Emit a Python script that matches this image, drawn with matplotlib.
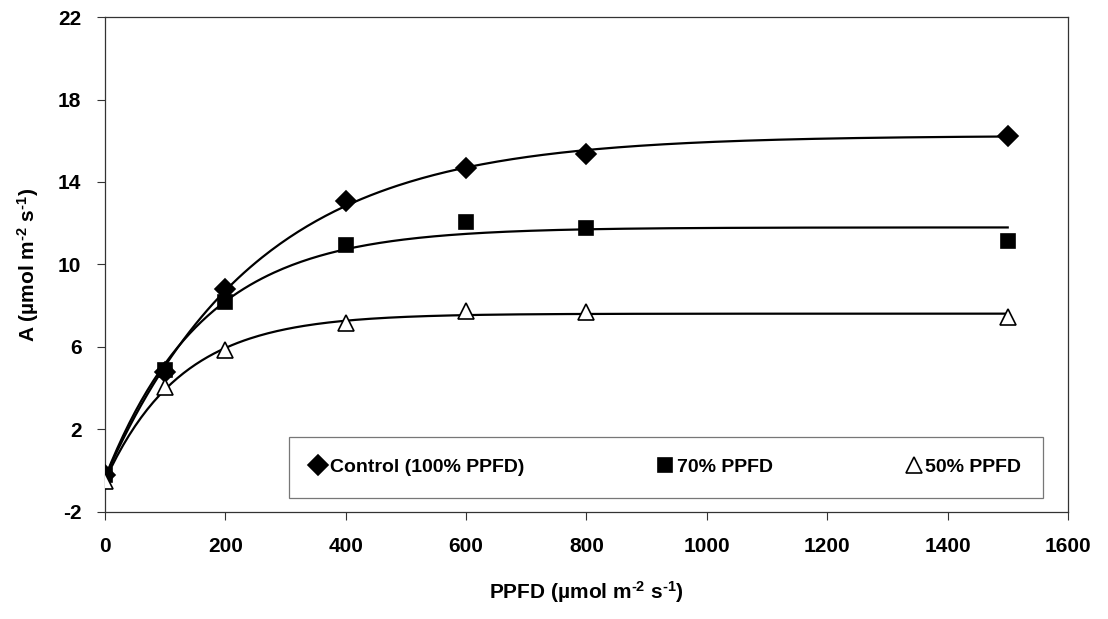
import numpy as np
import matplotlib
matplotlib.use("Agg")
import matplotlib.pyplot as plt

plt.rcParams['font.family'] = ['Liberation Sans', 'DejaVu Sans']
plt.rcParams['font.weight'] = 'bold'
plt.rcParams['axes.labelweight'] = 'bold'
plt.rcParams['axes.unicode_minus'] = False
plt.rcParams['mathtext.fontset'] = 'custom'
plt.rcParams['mathtext.rm'] = 'Liberation Sans:bold'
plt.rcParams['mathtext.bf'] = 'Liberation Sans:bold'
plt.rcParams['mathtext.default'] = 'bf'

# light levels (PPFD) and net assimilation
ppfd = [0, 100, 200, 400, 600, 800, 1500]
control = [-0.2, 4.8, 8.8, 13.1, 14.7, 15.35, 16.25]
ppfd70 = [-0.2, 4.9, 8.2, 10.95, 12.05, 11.75, 11.15]
ppfd50 = [-0.5, 4.05, 5.85, 7.15, 7.75, 7.7, 7.45]

labels = ['Control (100% PPFD)', '70% PPFD', '50% PPFD']
markers = ['D', 's', '^']
msizes = [10, 10, 12]
faces = ['black', 'black', 'white']


def fit_curve(x, y):
    # A = a - b*exp(-k*I), grid search over k, linear least squares for a, b
    x = np.asarray(x, float)
    y = np.asarray(y, float)
    best = None
    for k in np.linspace(0.001, 0.02, 400):
        M = np.column_stack([np.ones_like(x), -np.exp(-k * x)])
        coef, res, _, _ = np.linalg.lstsq(M, y, rcond=None)
        err = np.sum((M @ coef - y) ** 2)
        if best is None or err < best[0]:
            best = (err, k, coef)
    _, k, (a, b) = best
    return lambda t: a - b * np.exp(-k * t)


fig = plt.figure(figsize=(11.08, 6.19), dpi=100)
ax = fig.add_axes([0.0948, 0.173, 0.869, 0.7995])

xs = np.linspace(0, 1500, 300)
handles = []
for ys, lab, m, ms, fc in zip([control, ppfd70, ppfd50], labels, markers, msizes, faces):
    f = fit_curve(ppfd, ys)
    ax.plot(xs, f(xs), color='black', lw=1.6, zorder=2)
    h, = ax.plot(ppfd, ys, linestyle='none', marker=m, markersize=ms,
                 markerfacecolor=fc, markeredgecolor='black', markeredgewidth=1.2,
                 zorder=3, label=lab)
    handles.append(h)

ax.set_xlim(0, 1600)
ax.set_ylim(-2, 22)
ax.set_xticks(np.arange(0, 1601, 200))
ax.set_yticks(np.arange(-2, 23, 4))
ax.tick_params(axis='both', direction='out', length=6, width=0.8, color='#333333',
               labelsize=15)
ax.tick_params(axis='x', pad=12)
ax.tick_params(axis='y', pad=11)
for lab in ax.get_xticklabels() + ax.get_yticklabels():
    lab.set_fontweight('bold')
for s in ax.spines.values():
    s.set_color('#333333')
    s.set_linewidth(0.9)

ax.set_xlabel(r'PPFD (µmol m$^{\text{-2}}$ s$^{\text{-1}}$)', fontsize=15, labelpad=17)
ax.set_ylabel(r'A (µmol m$^{\text{-2}}$ s$^{\text{-1}}$)', fontsize=15, labelpad=12)

leg = ax.legend(handles=handles, loc='center', ncol=3, mode='expand',
                bbox_to_anchor=(0.181, 0.024, 0.803, 0.132),
                fontsize=14, frameon=True, fancybox=False, borderpad=1.1,
                handlelength=0.8, handletextpad=0.2, columnspacing=2.0)
leg.get_frame().set_edgecolor('#555555')
leg.get_frame().set_linewidth(0.9)
for t in leg.get_texts():
    t.set_fontweight('bold')

fig.savefig('out.png', dpi=100)
